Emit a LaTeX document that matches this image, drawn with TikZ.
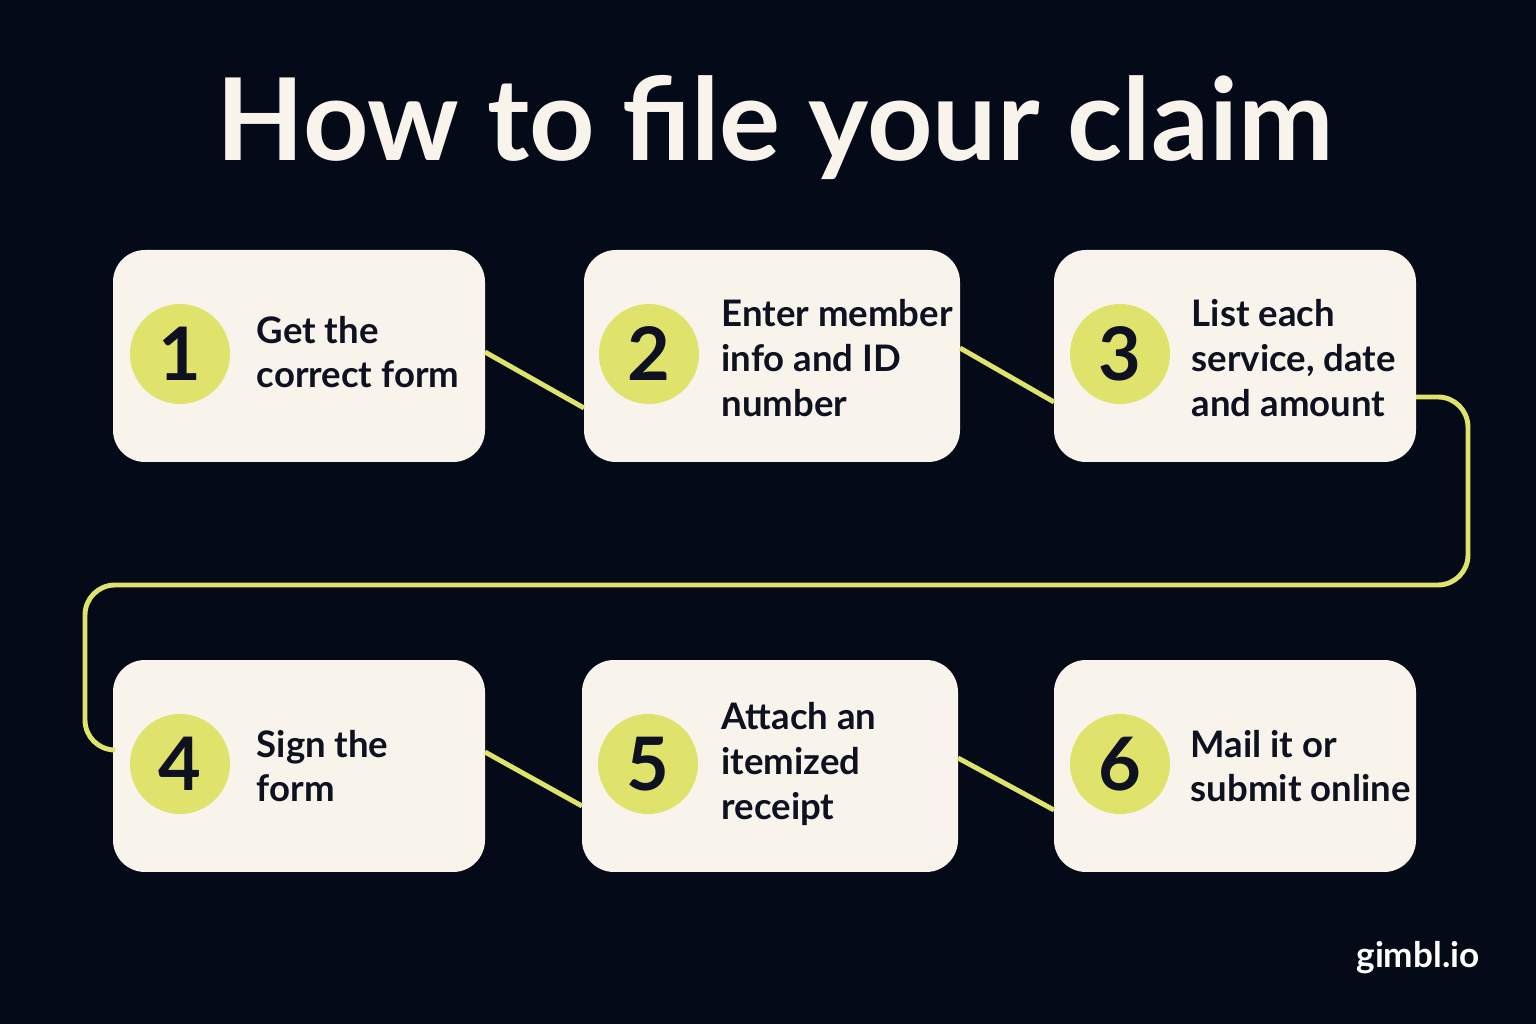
\documentclass[tikz,border=0pt]{standalone}
\usepackage{fontspec}
\setmainfont{Lato}
\begin{document}
\begin{tikzpicture}[x=0.1mm,y=-0.1mm,
  box/.style={fill=boxc,rounded corners=3.2mm,draw=none,minimum width=#1*0.1mm,minimum height=21.2mm,inner sep=0pt},
  num/.style={circle,fill=acc,minimum size=10mm,inner sep=0pt,font=\fontsize{21}{21}\selectfont\bfseries,text=txt},
  lbl/.style={anchor=west,align=left,inner sep=0pt,font=\fontsize{10.4}{12.7}\selectfont\bfseries,text=txt},
  conn/.style={draw=acc,line width=1.4pt,rounded corners=3mm}]
\definecolor{bg}{HTML}{050A18}
\definecolor{boxc}{HTML}{F8F4EC}
\definecolor{acc}{HTML}{DFE36B}
\definecolor{txt}{HTML}{0E1220}
\fill[bg] (0,0) rectangle (1536,1024);
\useasboundingbox (0,0) rectangle (1536,1024);
\node[text=boxc,font=\fontsize{32.5}{33}\selectfont\bfseries] (title) at (775,128) {How to file your claim};
\node[box=372] (b1) at (299,356) {};
\node[box=376] (b2) at (772,356) {};
\node[box=362] (b3) at (1235,356) {};
\node[box=372] (b4) at (299,766) {};
\node[box=376] (b5) at (770,766) {};
\node[box=362] (b6) at (1235,766) {};
\node[num] (n1) at (180,354) {1};
\node[num] (n2) at (649,354) {2};
\node[num] (n3) at (1120,354) {3};
\node[num] (n4) at (180,764) {4};
\node[num] (n5) at (648,764) {5};
\node[num] (n6) at (1120,764) {6};
\node[lbl] (t1) at (256,352) {Get the\\correct form};
\node[lbl] (t2) at (721,358) {Enter member\\info and ID\\number};
\node[lbl] (t3) at (1191,358) {List each\\service, date\\and amount};
\node[lbl] (t4) at (256,766) {Sign the\\form};
\node[lbl] (t5) at (721,764) {Attach an\\itemized\\receipt};
\node[lbl] (t6) at (1190,766) {Mail it or\\submit online};
\node[text=white,font=\fontsize{10}{10}\selectfont\bfseries] (brand) at (1418,958) {gimbl.io};
\coordinate (c1a) at (485,352); \coordinate (c1b) at (584,408);
\coordinate (c2a) at (960,348); \coordinate (c2b) at (1054,402);
\coordinate (c4a) at (485,752); \coordinate (c4b) at (582,806);
\coordinate (c5a) at (958,758); \coordinate (c5b) at (1054,810);
\coordinate (c3a) at (1416,397); \coordinate (c4l) at (113,750);
\draw[conn] (c1a) -- (c1b);
\draw[conn] (c2a) -- (c2b);
\draw[conn] (c4a) -- (c4b);
\draw[conn] (c5a) -- (c5b);
\draw[conn] (c3a) -- (1468,397) -- (1468,585) -- (85,585) -- (85,750) -- (c4l);
\end{tikzpicture}
\end{document}
